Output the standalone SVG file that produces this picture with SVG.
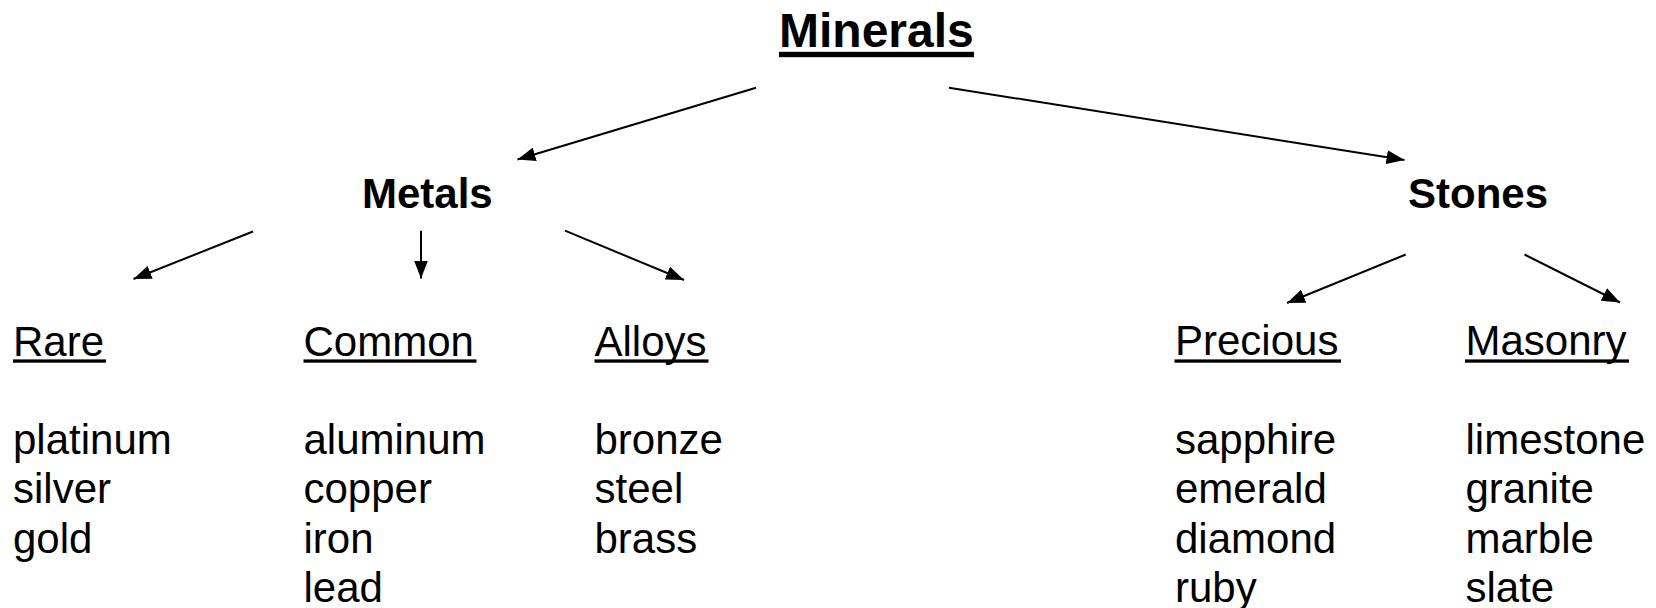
<svg xmlns="http://www.w3.org/2000/svg" width="1656" height="608" viewBox="0 0 1656 608">
  <style>
    text { font-family: "Liberation Sans", Arial, sans-serif; fill: #000; }
    .title { font-size: 48px; font-weight: bold; }
    .branch { font-size: 42px; font-weight: bold; }
    .cat { font-size: 42px; }
    .item { font-size: 42px; }
    .ul { fill: #000; }
    .edge { stroke: #000; stroke-width: 2; fill: none; marker-end: url(#head); }
  </style>
  <defs>
    <marker id="head" markerUnits="userSpaceOnUse" markerWidth="18" markerHeight="14" refX="18" refY="7" orient="auto" viewBox="0 0 18 14">
      <path d="M0,0 L18,7 L0,14 z" fill="#000"/>
    </marker>
  </defs>
  <rect width="1656" height="608" fill="#fff"/>

  <!-- connectors -->
  <g id="connectors">
    <line class="edge" x1="756" y1="87.7" x2="517.5" y2="159.5"/>
    <line class="edge" x1="949" y1="87.7" x2="1404.5" y2="160"/>
    <line class="edge" x1="253" y1="231.5" x2="133.5" y2="279"/>
    <line class="edge" x1="421" y1="230.7" x2="421" y2="278.5"/>
    <line class="edge" x1="565" y1="230.7" x2="684" y2="280"/>
    <line class="edge" x1="1405.7" y1="254.5" x2="1287" y2="303"/>
    <line class="edge" x1="1524.5" y1="254.5" x2="1620" y2="302.5"/>
  </g>

  <!-- root -->
  <g id="minerals">
    <text class="title" x="779" y="46.7">Minerals</text>
    <rect class="ul" x="779" y="51.8" width="195" height="5.4"/>
  </g>

  <!-- branches -->
  <g id="metals">
    <text class="branch" x="362" y="208">Metals</text>
  </g>
  <g id="stones">
    <text class="branch" x="1408" y="208.3">Stones</text>
  </g>

  <!-- leaf categories with their members -->
  <g id="rare">
    <text class="cat" x="13" y="355.5">Rare</text>
    <rect class="ul" x="13" y="359.4" width="93" height="3.3"/>
    <text class="item" x="13" y="454">platinum</text>
    <text class="item" x="13" y="503.3">silver</text>
    <text class="item" x="13" y="552.5">gold</text>
  </g>
  <g id="common">
    <text class="cat" x="303.5" y="355.5">Common</text>
    <rect class="ul" x="303.5" y="359.4" width="173" height="3.3"/>
    <text class="item" x="303.5" y="454">aluminum</text>
    <text class="item" x="303.5" y="503.3">copper</text>
    <text class="item" x="303.5" y="552.5">iron</text>
    <text class="item" x="303.5" y="601.8">lead</text>
  </g>
  <g id="alloys">
    <text class="cat" x="594.5" y="355.5">Alloys</text>
    <rect class="ul" x="594.5" y="359.4" width="114" height="3.3"/>
    <text class="item" x="594.5" y="454">bronze</text>
    <text class="item" x="594.5" y="503.3">steel</text>
    <text class="item" x="594.5" y="552.5">brass</text>
  </g>
  <g id="precious">
    <text class="cat" x="1175" y="355">Precious</text>
    <rect class="ul" x="1174.5" y="359.4" width="166.5" height="3.3"/>
    <text class="item" x="1175" y="454">sapphire</text>
    <text class="item" x="1175" y="503.3">emerald</text>
    <text class="item" x="1175" y="552.5">diamond</text>
    <text class="item" x="1175" y="601.8">ruby</text>
  </g>
  <g id="masonry">
    <text class="cat" x="1465.5" y="355">Masonry</text>
    <rect class="ul" x="1465" y="359.4" width="164" height="3.3"/>
    <text class="item" x="1465.5" y="454">limestone</text>
    <text class="item" x="1465.5" y="503.3">granite</text>
    <text class="item" x="1465.5" y="552.5">marble</text>
    <text class="item" x="1465.5" y="601.8">slate</text>
  </g>
</svg>
